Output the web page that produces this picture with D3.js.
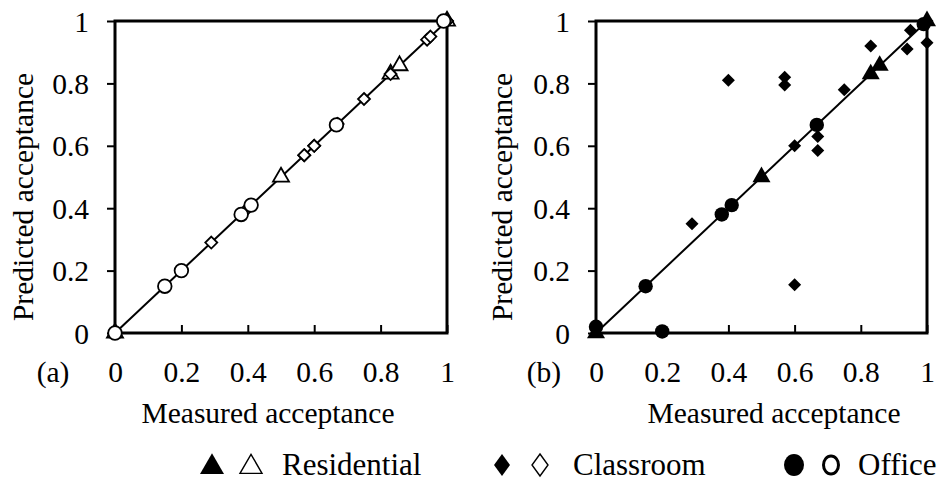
<!DOCTYPE html>
<html>
<head>
<meta charset="utf-8">
<script src="https://cdn.jsdelivr.net/npm/d3@7"></script>
<style>
  html, body { margin: 0; padding: 0; background: #fff; }
  svg { display: block; }
</style>
</head>
<body>
<svg id="chart" width="938" height="482"></svg>
<script>
// Axis ticks shared by both panels
const tickValues = [0, 0.2, 0.4, 0.6, 0.8, 1];
const tickLabels = ["0", "0.2", "0.4", "0.6", "0.8", "1"];

// Residential (triangles)
const resMeasured   = [0, 0.5, 0.83, 0.857, 1];
const resPredictedA = [0, 0.5, 0.83, 0.857, 1];
const resPredictedB = [0, 0.5, 0.83, 0.857, 1];

// Classroom (diamonds)
const clsMeasured   = [0.29, 0.4, 0.57, 0.57, 0.6, 0.6, 0.67, 0.67, 0.75, 0.83, 0.94, 0.95, 1, 1];
const clsPredictedA = [0.29, 0.4, 0.57, 0.57, 0.6, 0.6, 0.67, 0.67, 0.75, 0.83, 0.94, 0.95, 1, 1];
const clsPredictedB = [0.35, 0.81, 0.82, 0.795, 0.6, 0.155, 0.63, 0.585, 0.78, 0.92, 0.91, 0.97, 0.93, 1];

// Office (circles)
const offMeasured   = [0, 0.15, 0.2, 0.38, 0.41, 0.667, 0.99];
const offPredictedA = [0, 0.15, 0.2, 0.38, 0.41, 0.667, 1];
const offPredictedB = [0.02, 0.15, 0.005, 0.38, 0.41, 0.667, 0.99];

const legendItems = ["Residential", "Classroom", "Office"];

const SERIF = "'Liberation Serif', 'Times New Roman', serif";
const svg = d3.select("#chart");
const FONT = 29.5;

// rhombus with equal width and height, half-diagonal h
function diamondPath(h) {
  return `M0,${-h}L${h},0L0,${h}L${-h},0Z`;
}
// equilateral triangle centred on its centroid, side a
function trianglePath(a) {
  const hgt = a * Math.sqrt(3) / 2;
  return `M0,${-hgt * 2 / 3}L${a / 2},${hgt / 3}L${-a / 2},${hgt / 3}Z`;
}

function zip(xs, ys) { return xs.map((x, i) => ({ x, y: ys[i] })); }

function panel(opts) {
  const x = d3.scaleLinear().domain([0, 1]).range([opts.left, opts.right]);
  const y = d3.scaleLinear().domain([0, 1]).range([333, 21]);
  const g = svg.append("g");

  // y axis (outward ticks)
  const ya = g.append("g").attr("transform", `translate(${opts.left},0)`)
    .call(d3.axisLeft(y).tickValues(tickValues)
      .tickFormat((d, i) => tickLabels[i]).tickSizeInner(8).tickSizeOuter(0).tickPadding(18));
  ya.select(".domain").remove();
  ya.selectAll(".tick line").attr("stroke", "#000").attr("stroke-width", 2);
  ya.selectAll(".tick text").attr("dy", "0.34em").style("font-size", FONT + "px");

  // x axis (inward ticks)
  const xa = g.append("g").attr("transform", `translate(0,333)`)
    .call(d3.axisBottom(x).tickValues(tickValues)
      .tickFormat((d, i) => tickLabels[i]).tickSizeInner(-8).tickSizeOuter(0));
  xa.select(".domain").remove();
  xa.selectAll(".tick line").attr("stroke", "#000").attr("stroke-width", 2);
  xa.selectAll(".tick text").attr("y", 49).attr("dy", 0).style("font-size", FONT + "px");

  // frame
  g.append("rect")
    .attr("x", x(0)).attr("y", y(1))
    .attr("width", x(1) - x(0)).attr("height", y(0) - y(1))
    .attr("fill", "none").attr("stroke", "#000").attr("stroke-width", 3);

  // 1:1 line
  g.append("line")
    .attr("x1", x(0)).attr("y1", y(0)).attr("x2", x(1)).attr("y2", y(1))
    .attr("stroke", "#000").attr("stroke-width", 2);

  const fill = opts.filled ? "#000" : "#fff";
  const sw = opts.filled ? 0 : 1.8;

  g.selectAll(".tri").data(zip(resMeasured, opts.res)).join("path")
    .attr("d", trianglePath(opts.filled ? 18 : 16))
    .attr("transform", d => `translate(${x(d.x)},${y(d.y)})`)
    .attr("fill", fill).attr("stroke", "#000").attr("stroke-width", sw);

  g.selectAll(".dia").data(zip(clsMeasured, opts.cls)).join("path")
    .attr("d", diamondPath(opts.filled ? 6.5 : 6))
    .attr("transform", d => `translate(${x(d.x)},${y(d.y)})`)
    .attr("fill", fill).attr("stroke", "#000").attr("stroke-width", sw);

  g.selectAll(".cir").data(zip(offMeasured, opts.off)).join("circle")
    .attr("cx", d => x(d.x)).attr("cy", d => y(d.y))
    .attr("r", opts.filled ? 7.2 : 6.8)
    .attr("fill", fill).attr("stroke", "#000").attr("stroke-width", sw);

  // titles
  g.append("text").attr("x", opts.xTitleX).attr("y", 423)
    .attr("text-anchor", "middle").style("font-size", FONT + "px").text("Measured acceptance");
  g.append("text")
    .attr("transform", `translate(${opts.yTitleX},197) rotate(-90)`)
    .attr("text-anchor", "middle").attr("dy", "0.33em")
    .style("font-size", FONT + "px").text("Predicted acceptance");
  g.append("text").attr("x", opts.tagX).attr("y", 382)
    .attr("text-anchor", "middle").style("font-size", FONT + "px").text(opts.tag);
}

panel({ left: 115, right: 447, filled: false,
  res: resPredictedA, cls: clsPredictedA, off: offPredictedA,
  xTitleX: 268, yTitleX: 23, tagX: 53, tag: "(a)" });

panel({ left: 596, right: 927, filled: true,
  res: resPredictedB, cls: clsPredictedB, off: offPredictedB,
  xTitleX: 774, yTitleX: 502, tagX: 544, tag: "(b)" });

// legend
const lg = svg.append("g");
const ly = 465;
lg.append("path").attr("d", trianglePath(24)).attr("transform", `translate(212,${ly + 2})`).attr("fill", "#000");
lg.append("path").attr("d", trianglePath(22)).attr("transform", `translate(251,${ly + 2})`)
  .attr("fill", "none").attr("stroke", "#000").attr("stroke-width", 1.4);
lg.append("path").attr("d", `M0,-11L8,0L0,11L-8,0Z`).attr("transform", `translate(502,${ly})`).attr("fill", "#000");
lg.append("path").attr("d", `M0,-11L8,0L0,11L-8,0Z`).attr("transform", `translate(540,${ly})`)
  .attr("fill", "none").attr("stroke", "#000").attr("stroke-width", 1.4);
lg.append("ellipse").attr("cx", 794).attr("cy", ly).attr("rx", 10).attr("ry", 11).attr("fill", "#000");
lg.append("ellipse").attr("cx", 831).attr("cy", ly).attr("rx", 7.5).attr("ry", 9)
  .attr("fill", "none").attr("stroke", "#000").attr("stroke-width", 3);
const lx = [282, 573, 858];
lg.selectAll(".lt").data(legendItems).join("text")
  .attr("x", (d, i) => lx[i]).attr("y", 475).style("font-size", "31px").text(d => d);

// serif face for every label
svg.selectAll("text").style("font-family", SERIF).style("fill", "#000");
</script>
</body>
</html>
